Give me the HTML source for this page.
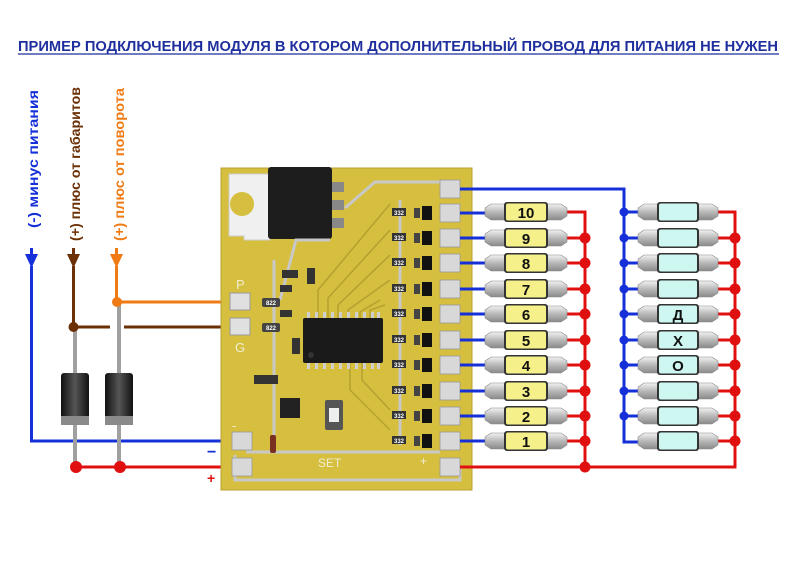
<!DOCTYPE html>
<html><head><meta charset="utf-8"><style>
html,body{margin:0;padding:0;background:#fff;width:796px;height:576px;overflow:hidden}
svg{display:block}
text{font-family:"Liberation Sans","DejaVu Sans",sans-serif}
</style></head><body>
<svg width="796" height="576" viewBox="0 0 796 576" xmlns="http://www.w3.org/2000/svg" font-weight="bold">
<defs>
<linearGradient id="cap" x1="0" y1="0" x2="0" y2="1">
<stop offset="0" stop-color="#f2f2f2"/><stop offset="0.5" stop-color="#b8b8b8"/><stop offset="1" stop-color="#8a8a8a"/>
</linearGradient>
<linearGradient id="dio" x1="0" y1="0" x2="1" y2="0">
<stop offset="0" stop-color="#111"/><stop offset="0.5" stop-color="#555"/><stop offset="1" stop-color="#111"/>
</linearGradient>
<g id="ledL">
<path d="M0,-4 L6,-8 L20,-8 L20,8 L6,8 L0,4 Z" fill="url(#cap)" stroke="#888" stroke-width="0.6"/>
<path d="M82,-4 L76,-8 L62,-8 L62,8 L76,8 L82,4 Z" fill="url(#cap)" stroke="#888" stroke-width="0.6"/>
<rect x="19" y="-10" width="44" height="20" rx="3" fill="#333"/>
<rect x="21" y="-8.5" width="40" height="17" rx="2" fill="#f5f08a"/>
</g>
<g id="ledR">
<path d="M0,-4 L6,-8 L20,-8 L20,8 L6,8 L0,4 Z" fill="url(#cap)" stroke="#888" stroke-width="0.6"/>
<path d="M80,-4 L74,-8 L60,-8 L60,8 L74,8 L80,4 Z" fill="url(#cap)" stroke="#888" stroke-width="0.6"/>
<rect x="19" y="-10" width="42" height="20" rx="3" fill="#333"/>
<rect x="21" y="-8.5" width="38" height="17" rx="2" fill="#cff7f2"/>
</g>
<g id="pad"><rect x="0" y="-9" width="20" height="18" fill="#d8d8d8" stroke="#999" stroke-width="0.8"/></g>
<g id="drv">
<rect x="0" y="-5" width="14" height="8" fill="#333"/><text x="7" y="2" font-size="6" fill="#fff" text-anchor="middle">332</text>
<rect x="22" y="-5" width="6" height="10" fill="#444"/>
<rect x="30" y="-7" width="10" height="14" fill="#111"/>
</g>
</defs>

<text x="398" y="51" font-size="14.5" font-weight="bold" fill="#1f2f9e" text-anchor="middle" textLength="760" lengthAdjust="spacingAndGlyphs">ПРИМЕР ПОДКЛЮЧЕНИЯ МОДУЛЯ В КОТОРОМ ДОПОЛНИТЕЛЬНЫЙ ПРОВОД ДЛЯ ПИТАНИЯ НЕ НУЖЕН</text>
<line x1="18" y1="54" x2="779" y2="54" stroke="#1f2f9e" stroke-width="1.3"/>

<text transform="translate(38,228) rotate(-90)" font-size="14" font-weight="bold" fill="#1530d8" textLength="138" lengthAdjust="spacingAndGlyphs">(-) минус питания</text>
<text transform="translate(80,241) rotate(-90)" font-size="14" font-weight="bold" fill="#6b3006" textLength="154" lengthAdjust="spacingAndGlyphs">(+) плюс от габаритов</text>
<text transform="translate(124,241) rotate(-90)" font-size="14" font-weight="bold" fill="#f07a14" textLength="153" lengthAdjust="spacingAndGlyphs">(+) плюс от поворота</text>

<polygon points="25,254 38,254 31.5,268" fill="#1530d8"/><line x1="31.5" y1="248" x2="31.5" y2="256" stroke="#1530d8" stroke-width="3"/>
<polygon points="67,254 80,254 73.5,268" fill="#6b3006"/><line x1="73.5" y1="248" x2="73.5" y2="256" stroke="#6b3006" stroke-width="3"/>
<polygon points="110,254 123,254 116.5,268" fill="#f07a14"/><line x1="116.5" y1="248" x2="116.5" y2="256" stroke="#f07a14" stroke-width="3"/>

<polyline points="31.5,266 31.5,441 232,441" fill="none" stroke="#1530d8" stroke-width="3"/>
<line x1="73.5" y1="266" x2="73.5" y2="327" stroke="#6b3006" stroke-width="3"/>
<line x1="73.5" y1="327" x2="110" y2="327" stroke="#6b3006" stroke-width="3"/>
<line x1="124" y1="327" x2="232" y2="327" stroke="#6b3006" stroke-width="3"/>
<line x1="116.5" y1="266" x2="116.5" y2="302" stroke="#f07a14" stroke-width="3"/>
<line x1="116.5" y1="302" x2="232" y2="302" stroke="#f07a14" stroke-width="3"/>

<line x1="75" y1="327" x2="75" y2="467" stroke="#a0a0a0" stroke-width="4"/>
<line x1="119" y1="302" x2="119" y2="467" stroke="#a0a0a0" stroke-width="4"/>
<rect x="61" y="373" width="28" height="52" rx="3" fill="url(#dio)"/>
<rect x="61" y="416" width="28" height="9" fill="#8a8a8a"/>
<rect x="105" y="373" width="28" height="52" rx="3" fill="url(#dio)"/>
<rect x="105" y="416" width="28" height="9" fill="#8a8a8a"/>
<line x1="60" y1="441" x2="135" y2="441" stroke="#1530d8" stroke-width="3" stroke-dasharray="9,6" stroke-dashoffset="-2"/>

<line x1="75" y1="467" x2="232" y2="467" stroke="#e01010" stroke-width="3"/>
<circle cx="73.5" cy="327" r="5" fill="#6b3006"/>
<circle cx="117" cy="302" r="5" fill="#f07a14"/>
<circle cx="76" cy="467" r="6" fill="#e01010"/>
<circle cx="120" cy="467" r="6" fill="#e01010"/>
<text x="207" y="457" font-size="16" fill="#1530d8">−</text>
<text x="207" y="483" font-size="14" fill="#e01010">+</text>

<rect x="221" y="168" width="251" height="322" fill="#d6bf3e"/>
<rect x="221" y="168" width="251" height="322" fill="none" stroke="#b8a030" stroke-width="1"/>
<path d="M229,174 L270,174 L270,240 L244,240 L244,236 L229,236 Z" fill="#f0f0f0" stroke="#ccc"/>
<circle cx="242" cy="204" r="12" fill="#d6bf3e"/>
<rect x="268" y="167" width="64" height="72" rx="3" fill="#1d1d1d"/>
<rect x="332" y="182" width="12" height="10" fill="#888"/><rect x="332" y="200" width="12" height="10" fill="#888"/><rect x="332" y="218" width="12" height="10" fill="#888"/>
<g fill="none" stroke="#c8c8c8" stroke-width="3">
<polyline points="345,208 375,182 440,182"/>
<polyline points="235,455 235,480 460,480 460,468"/>
<polyline points="246,452 440,452"/>
<polyline points="274,260 274,440"/>
<polyline points="280,300 296,240 330,240"/>
<polyline points="400,200 400,445"/>
</g>
<g fill="none" stroke="#b5a030" stroke-width="1.5">
<polyline points="318,318 318,290 390,204"/><polyline points="328,318 328,298 390,230"/>
<polyline points="338,318 338,305 390,255"/><polyline points="348,318 348,310 390,280"/>
<polyline points="360,318 360,312 380,300"/><polyline points="370,318 370,310 385,305"/>
<polyline points="350,362 350,390 390,430"/><polyline points="362,362 362,380 390,410"/>
</g>
<rect x="230" y="293" width="20" height="17" fill="#e0e0e0" stroke="#999"/>
<rect x="230" y="318" width="20" height="17" fill="#e0e0e0" stroke="#999"/>
<text x="236" y="289" font-size="13" fill="#f0ecd0" font-weight="normal">P</text>
<text x="235" y="352" font-size="13" fill="#f0ecd0" font-weight="normal">G</text>
<text x="232" y="430" font-size="13" fill="#f0ecd0" font-weight="normal">-</text>
<text x="318" y="467" font-size="12" fill="#f0ecd0" font-weight="normal">SET</text>
<text x="420" y="465" font-size="12" fill="#f0ecd0" font-weight="normal">+</text>
<rect x="262" y="298" width="18" height="9" rx="2" fill="#444"/><text x="271" y="305" font-size="6" fill="#fff" text-anchor="middle">822</text>
<rect x="262" y="323" width="18" height="9" rx="2" fill="#444"/><text x="271" y="330" font-size="6" fill="#fff" text-anchor="middle">822</text>
<rect x="282" y="270" width="16" height="8" fill="#333"/><rect x="280" y="285" width="12" height="7" fill="#333"/>
<rect x="280" y="310" width="12" height="7" fill="#333"/><rect x="307" y="268" width="8" height="16" fill="#333"/>
<rect x="292" y="338" width="8" height="16" fill="#333"/>
<rect x="254" y="375" width="24" height="9" fill="#333"/>
<rect x="280" y="398" width="20" height="20" fill="#222"/>
<rect x="325" y="400" width="18" height="30" rx="2" fill="#555"/><rect x="329" y="408" width="10" height="14" fill="#eee"/>
<rect x="270" y="435" width="6" height="18" rx="2" fill="#7a3020"/>
<rect x="303" y="318" width="80" height="45" rx="2" fill="#1a1a1a"/>
<circle cx="311" cy="355" r="3" fill="#333"/>
<g fill="#cfcfcf">
<rect x="307" y="312" width="3" height="6"/><rect x="315" y="312" width="3" height="6"/><rect x="323" y="312" width="3" height="6"/><rect x="331" y="312" width="3" height="6"/><rect x="339" y="312" width="3" height="6"/><rect x="347" y="312" width="3" height="6"/><rect x="355" y="312" width="3" height="6"/><rect x="363" y="312" width="3" height="6"/><rect x="371" y="312" width="3" height="6"/><rect x="377" y="312" width="3" height="6"/>
<rect x="307" y="363" width="3" height="6"/><rect x="315" y="363" width="3" height="6"/><rect x="323" y="363" width="3" height="6"/><rect x="331" y="363" width="3" height="6"/><rect x="339" y="363" width="3" height="6"/><rect x="347" y="363" width="3" height="6"/><rect x="355" y="363" width="3" height="6"/><rect x="363" y="363" width="3" height="6"/><rect x="371" y="363" width="3" height="6"/><rect x="377" y="363" width="3" height="6"/>
</g>
<use href="#drv" x="392" y="213"/><use href="#drv" x="392" y="238"/><use href="#drv" x="392" y="263"/><use href="#drv" x="392" y="289"/><use href="#drv" x="392" y="314"/><use href="#drv" x="392" y="340"/><use href="#drv" x="392" y="365"/><use href="#drv" x="392" y="391"/><use href="#drv" x="392" y="416"/><use href="#drv" x="392" y="441"/>
<use href="#pad" x="440" y="189"/><use href="#pad" x="440" y="213"/><use href="#pad" x="440" y="238"/><use href="#pad" x="440" y="263"/><use href="#pad" x="440" y="289"/><use href="#pad" x="440" y="314"/><use href="#pad" x="440" y="340"/><use href="#pad" x="440" y="365"/><use href="#pad" x="440" y="391"/><use href="#pad" x="440" y="416"/><use href="#pad" x="440" y="441"/>
<use href="#pad" x="440" y="467"/><use href="#pad" x="232" y="441"/><use href="#pad" x="232" y="467"/>

<g stroke="#1530d8" stroke-width="3" fill="none">
<polyline points="460,189 624,189 624,442 638,442"/>
<line x1="460" y1="213" x2="486" y2="213"/><line x1="460" y1="238" x2="486" y2="238"/><line x1="460" y1="263" x2="486" y2="263"/><line x1="460" y1="289" x2="486" y2="289"/><line x1="460" y1="314" x2="486" y2="314"/><line x1="460" y1="340" x2="486" y2="340"/><line x1="460" y1="365" x2="486" y2="365"/><line x1="460" y1="391" x2="486" y2="391"/><line x1="460" y1="416" x2="486" y2="416"/><line x1="460" y1="441" x2="486" y2="441"/>
<line x1="624" y1="212" x2="638" y2="212"/><line x1="624" y1="238" x2="638" y2="238"/><line x1="624" y1="263" x2="638" y2="263"/><line x1="624" y1="289" x2="638" y2="289"/><line x1="624" y1="314" x2="638" y2="314"/><line x1="624" y1="340" x2="638" y2="340"/><line x1="624" y1="365" x2="638" y2="365"/><line x1="624" y1="391" x2="638" y2="391"/><line x1="624" y1="416" x2="638" y2="416"/>
</g>
<g stroke="#e01010" stroke-width="3" fill="none">
<polyline points="460,467 735,467 735,212 717,212"/>
<polyline points="566,212 585,212 585,467"/>
<line x1="566" y1="238" x2="585" y2="238"/><line x1="566" y1="263" x2="585" y2="263"/><line x1="566" y1="289" x2="585" y2="289"/><line x1="566" y1="314" x2="585" y2="314"/><line x1="566" y1="340" x2="585" y2="340"/><line x1="566" y1="365" x2="585" y2="365"/><line x1="566" y1="391" x2="585" y2="391"/><line x1="566" y1="416" x2="585" y2="416"/><line x1="566" y1="441" x2="585" y2="441"/>
<line x1="717" y1="238" x2="735" y2="238"/><line x1="717" y1="263" x2="735" y2="263"/><line x1="717" y1="289" x2="735" y2="289"/><line x1="717" y1="314" x2="735" y2="314"/><line x1="717" y1="340" x2="735" y2="340"/><line x1="717" y1="365" x2="735" y2="365"/><line x1="717" y1="391" x2="735" y2="391"/><line x1="717" y1="416" x2="735" y2="416"/><line x1="717" y1="441" x2="735" y2="441"/>
</g>
<g>
<use href="#ledL" x="485" y="212"/><use href="#ledL" x="485" y="238"/><use href="#ledL" x="485" y="263"/><use href="#ledL" x="485" y="289"/><use href="#ledL" x="485" y="314"/><use href="#ledL" x="485" y="340"/><use href="#ledL" x="485" y="365"/><use href="#ledL" x="485" y="391"/><use href="#ledL" x="485" y="416"/><use href="#ledL" x="485" y="441"/>
<use href="#ledR" x="638" y="212"/><use href="#ledR" x="638" y="238"/><use href="#ledR" x="638" y="263"/><use href="#ledR" x="638" y="289"/><use href="#ledR" x="638" y="314"/><use href="#ledR" x="638" y="340"/><use href="#ledR" x="638" y="365"/><use href="#ledR" x="638" y="391"/><use href="#ledR" x="638" y="416"/><use href="#ledR" x="638" y="441"/>
</g>
<g font-size="15" font-weight="bold" fill="#111" text-anchor="middle">
<text x="526" y="218">10</text><text x="526" y="244">9</text><text x="526" y="269">8</text><text x="526" y="295">7</text><text x="526" y="320">6</text><text x="526" y="346">5</text><text x="526" y="371">4</text><text x="526" y="397">3</text><text x="526" y="422">2</text><text x="526" y="447">1</text>
<text x="678" y="320">Д</text><text x="678" y="346">Х</text><text x="678" y="371">О</text>
</g>
<g fill="#1530d8">
<circle cx="624" cy="212" r="4.5"/><circle cx="624" cy="238" r="4.5"/><circle cx="624" cy="263" r="4.5"/><circle cx="624" cy="289" r="4.5"/><circle cx="624" cy="314" r="4.5"/><circle cx="624" cy="340" r="4.5"/><circle cx="624" cy="365" r="4.5"/><circle cx="624" cy="391" r="4.5"/><circle cx="624" cy="416" r="4.5"/>
</g>
<g fill="#e01010">
<circle cx="585" cy="238" r="5.5"/><circle cx="585" cy="263" r="5.5"/><circle cx="585" cy="289" r="5.5"/><circle cx="585" cy="314" r="5.5"/><circle cx="585" cy="340" r="5.5"/><circle cx="585" cy="365" r="5.5"/><circle cx="585" cy="391" r="5.5"/><circle cx="585" cy="416" r="5.5"/><circle cx="585" cy="441" r="5.5"/><circle cx="585" cy="467" r="5.5"/>
<circle cx="735" cy="238" r="5.5"/><circle cx="735" cy="263" r="5.5"/><circle cx="735" cy="289" r="5.5"/><circle cx="735" cy="314" r="5.5"/><circle cx="735" cy="340" r="5.5"/><circle cx="735" cy="365" r="5.5"/><circle cx="735" cy="391" r="5.5"/><circle cx="735" cy="416" r="5.5"/><circle cx="735" cy="441" r="5.5"/>
</g>
</svg>
</body></html>
